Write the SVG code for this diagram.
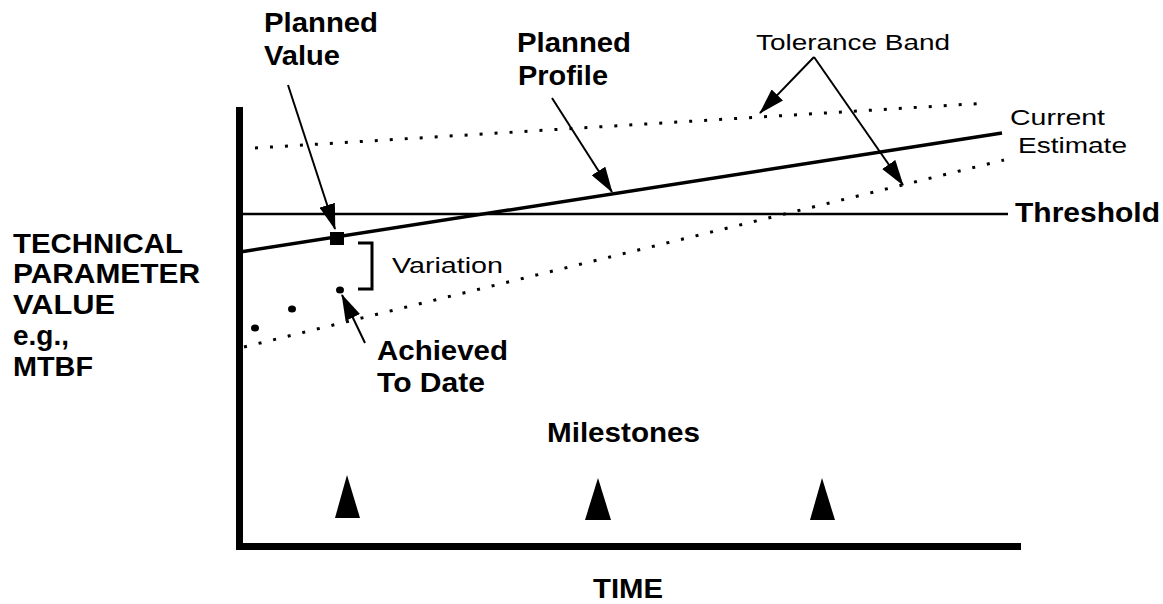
<svg xmlns="http://www.w3.org/2000/svg" width="1163" height="604" viewBox="0 0 1163 604">
<style>
.b{font-family:"Liberation Sans",Arial,sans-serif;font-weight:bold;font-size:28px;fill:#000}
.r{font-family:"Liberation Sans",Arial,sans-serif;font-size:22px;fill:#000}
.ln{stroke:#000;fill:none}
.dot{stroke:#000;stroke-width:3;stroke-dasharray:3 12;fill:none}
.arr{stroke:#000;stroke-width:2;fill:none;marker-end:url(#ah)}
</style>
<defs>
<marker id="ah" viewBox="0 0 26 16" refX="25" refY="8" markerWidth="26" markerHeight="16" markerUnits="userSpaceOnUse" orient="auto">
<path d="M0,0 L26,8 L0,16 Z" fill="#000"/>
</marker>
</defs>
<rect width="1163" height="604" fill="#fff"/>
<g id="axes">
<line class="ln" x1="239.5" y1="107" x2="239.5" y2="550" stroke-width="7"/>
<line class="ln" x1="236" y1="546.5" x2="1021" y2="546.5" stroke-width="7"/>
</g>
<g id="threshold">
<line class="ln" x1="240" y1="214" x2="1008" y2="214" stroke-width="2.5"/>
<text class="b" x="1015" y="222" textLength="145" lengthAdjust="spacingAndGlyphs">Threshold</text>
</g>
<g id="tolerance-band">
<line class="dot" x1="255" y1="148" x2="988" y2="103"/>
<line class="dot" x1="244" y1="347" x2="1004" y2="160"/>
</g>
<g id="planned-profile">
<line class="ln" x1="240" y1="252" x2="1002" y2="133" stroke-width="3.5"/>
</g>
<g id="planned-value">
<rect x="330" y="232" width="14" height="13" fill="#000"/>
</g>
<g id="achieved">
<ellipse cx="255" cy="328" rx="4" ry="3.5" fill="#000"/>
<ellipse cx="292" cy="309" rx="4" ry="3.5" fill="#000"/>
<ellipse cx="340" cy="290" rx="4" ry="3.5" fill="#000"/>
</g>
<g id="variation">
<path class="ln" d="M358,243 H372 V289 H358" stroke-width="3"/>
<text class="r" x="392" y="273" font-size="23" textLength="111" lengthAdjust="spacingAndGlyphs">Variation</text>
</g>
<g id="milestones">
<polygon points="347,475 360,518 335,518" fill="#000"/>
<polygon points="598,478 611,520 585,520" fill="#000"/>
<polygon points="822,478 835,520 810,520" fill="#000"/>
<text class="b" x="547" y="442" textLength="153" lengthAdjust="spacingAndGlyphs">Milestones</text>
</g>
<g id="connectors">
<line class="arr" x1="288" y1="85" x2="335" y2="229"/>
<line class="arr" x1="552" y1="98" x2="612" y2="192"/>
<line class="arr" x1="365" y1="343" x2="342" y2="295"/>
<line class="arr" x1="814" y1="57" x2="760" y2="113"/>
<line class="arr" x1="814" y1="57" x2="903" y2="185"/>
</g>
<g id="labels">
<text class="b" x="264" y="32" textLength="114" lengthAdjust="spacingAndGlyphs">Planned</text>
<text class="b" x="264" y="65" textLength="76" lengthAdjust="spacingAndGlyphs">Value</text>
<text class="b" x="517" y="52" textLength="114" lengthAdjust="spacingAndGlyphs">Planned</text>
<text class="b" x="518" y="85" textLength="90" lengthAdjust="spacingAndGlyphs">Profile</text>
<text class="r" x="756" y="50" textLength="194" lengthAdjust="spacingAndGlyphs">Tolerance Band</text>
<text class="r" x="1010" y="125" textLength="95" lengthAdjust="spacingAndGlyphs">Current</text>
<text class="r" x="1018" y="153" textLength="109" lengthAdjust="spacingAndGlyphs">Estimate</text>
<text class="b" x="377" y="360" textLength="131" lengthAdjust="spacingAndGlyphs">Achieved</text>
<text class="b" x="377" y="392" textLength="108" lengthAdjust="spacingAndGlyphs">To Date</text>
<text class="b" x="13" y="253" font-size="29" textLength="170" lengthAdjust="spacingAndGlyphs">TECHNICAL</text>
<text class="b" x="13" y="283" font-size="29" textLength="187" lengthAdjust="spacingAndGlyphs">PARAMETER</text>
<text class="b" x="13" y="314" font-size="29" textLength="102" lengthAdjust="spacingAndGlyphs">VALUE</text>
<text class="b" x="13" y="345" font-size="29">e.g.,</text>
<text class="b" x="13" y="376" font-size="29" textLength="80" lengthAdjust="spacingAndGlyphs">MTBF</text>
<text class="b" x="593" y="598" textLength="70" lengthAdjust="spacingAndGlyphs">TIME</text>
</g>
</svg>
